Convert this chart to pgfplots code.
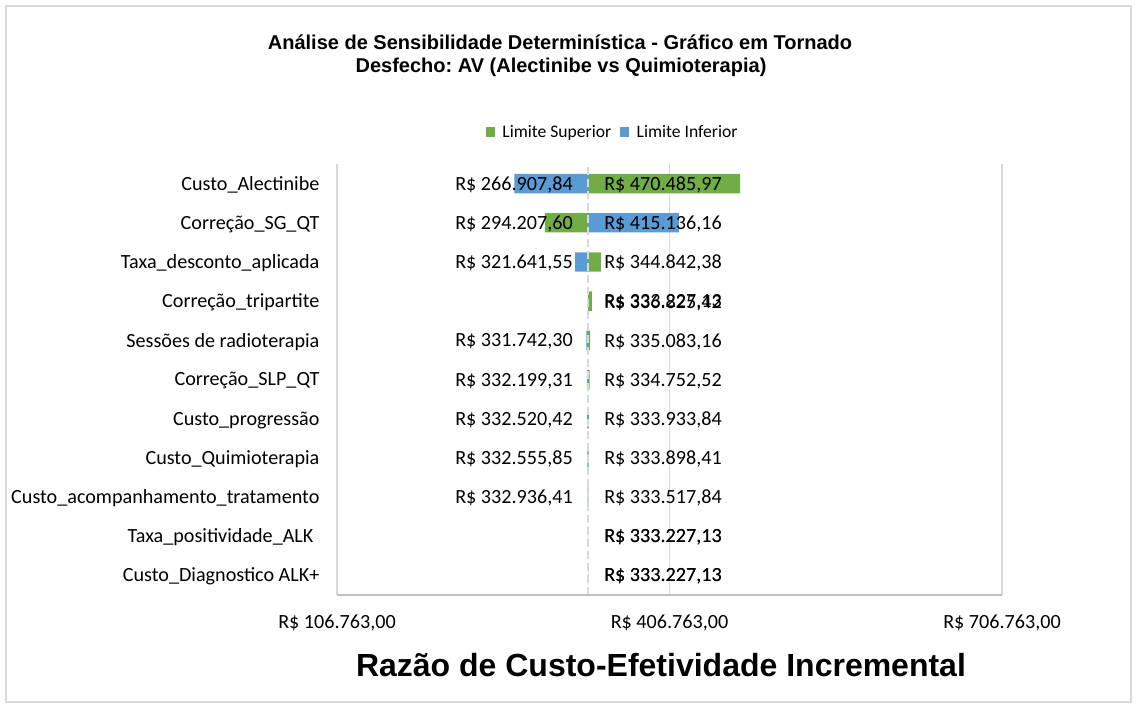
\documentclass[border=0pt]{standalone}
\usepackage{pgfplots}
\pgfplotsset{compat=1.18}
\usepackage{pgfplotstable}
\usepackage{fontspec}
\setmainfont{Carlito}
\newfontfamily\arialfont{Liberation Sans}
\definecolor{exgreen}{HTML}{70AD47}
\definecolor{exblue}{HTML}{5B9BD5}
\definecolor{gridgray}{HTML}{D9D9D9}
\definecolor{axisgray}{HTML}{BFBFBF}
\newcommand{\lblfont}{\fontsize{15.1pt}{17.5pt}\selectfont}
\newcommand{\legfont}{\fontsize{13.2pt}{16pt}\selectfont}
\frenchspacing

% y = 10 - row (Custo_Alectinibe on top); inf = Limite Inferior, sup = Limite Superior
\pgfplotstableread[col sep=comma]{
y,inf,sup
10,266907.84,470485.97
9,415136.16,294207.60
8,321641.55,344842.38
7,333227.13,336825.42
6,331742.30,335083.16
5,332199.31,334752.52
4,332520.42,333933.84
3,332555.85,333898.41
2,332936.41,333517.84
1,333227.13,333227.13
0,333227.13,333227.13
}\bars

\pgfplotstableread[col sep=semicolon]{
y;t
10;266.907,84
9;294.207,60
8;321.641,55
6;331.742,30
5;332.199,31
4;332.520,42
3;332.555,85
2;332.936,41
}\leftlabels

\pgfplotstableread[col sep=semicolon]{
y;t
10;470.485,97
9;415.136,16
8;344.842,38
7;336.825,42
7;333.227,13
6;335.083,16
5;334.752,52
4;333.933,84
3;333.898,41
2;333.517,84
1;333.227,13
1;333.227,13
0;333.227,13
0;333.227,13
}\rightlabels

\begin{document}
\begin{tikzpicture}
\path[use as bounding box] (0pt,0pt) rectangle (852.75pt,531pt);
\fill[white] (0pt,0pt) rectangle (852.75pt,531pt);
\draw[gridgray, line width=1pt] (4.5pt,4.5pt) rectangle (848.25pt,526.5pt);

\node[anchor=base, font=\arialfont\bfseries\fontsize{15pt}{18pt}\selectfont] at (420pt,494pt)
  {Análise de Sensibilidade Determinística - Gráfico em Tornado};
\node[anchor=base, font=\arialfont\bfseries\fontsize{15pt}{18pt}\selectfont] at (420.75pt,476.5pt)
  {Desfecho: AV (Alectinibe vs Quimioterapia)};

\begin{axis}[
  at={(252.75pt,84.75pt)}, anchor=south west,
  scale only axis, width=498.75pt, height=323.25pt,
  clip=false,
  xmin=-226464.13, xmax=373535.87,
  ymin=-0.5, ymax=10.5,
  scaled x ticks=false,
  xtick={-226464.13,73535.87,373535.87},
  xticklabels={{R\$ 106.763,00},{R\$ 406.763,00},{R\$ 706.763,00}},
  ytick={0,1,2,3,4,5,6,7,8,9,10},
  yticklabels={{Custo\_Diagnostico ALK+},{Taxa\_positividade\_ALK\kern4.5pt},{Custo\_acompanhamento\_tratamento},{Custo\_Quimioterapia},{Custo\_progressão},{Correção\_SLP\_QT},{Sessões de radioterapia},{Correção\_tripartite},{Taxa\_desconto\_aplicada},{Correção\_SG\_QT},{Custo\_Alectinibe}},
  major tick length=0pt,
  xmajorgrids, grid style={gridgray, line width=1pt},
  axis line style={draw=none},
  xticklabel style={font=\lblfont, anchor=north, inner sep=0pt, yshift=-15pt},
  yticklabel style={font=\lblfont, anchor=east, inner sep=0pt, xshift=-13pt, yshift=-1pt},
  legend style={at={(axis description cs:0.415,1.074)}, anchor=center, draw=none, fill=none,
    legend columns=2, font=\legfont,
    /tikz/every odd column/.append style={column sep=3.5pt},
    /tikz/every even column/.append style={column sep=4.5pt}},
  legend image code/.code={\fill[#1] (0pt,-3.5pt) rectangle (7pt,3.5pt);},
]
\addplot[xbar, bar width=14.5pt, bar shift=0pt, fill=exgreen, draw=none]
  table[x expr=\thisrow{sup}-333227.13, y=y] {\bars};
\addlegendentry{Limite Superior}
\addplot[xbar, bar width=14.5pt, bar shift=0pt, fill=exblue, draw=none]
  table[x expr=\thisrow{inf}-333227.13, y=y] {\bars};
\addlegendentry{Limite Inferior}

\addplot[forget plot, gridgray, line width=1.1pt, dash pattern=on 6pt off 3pt]
  coordinates {(0,-0.5) (0,10.5)};

\addplot[forget plot, draw=none, mark=none, nodes near coords={R\$ \pgfplotspointmeta}, point meta=explicit symbolic,
  every node near coord/.append style={anchor=east, inner sep=0pt, xshift=-11.25pt, yshift=-1pt, font=\lblfont, text=black}]
  table[x expr=0, y=y, meta=t] {\leftlabels};
\addplot[forget plot, draw=none, mark=none, nodes near coords={R\$ \pgfplotspointmeta}, point meta=explicit symbolic,
  every node near coord/.append style={anchor=west, inner sep=0pt, xshift=12pt, yshift=-1pt, font=\lblfont, text=black}]
  table[x expr=0, y=y, meta=t] {\rightlabels};

\draw[axisgray, line width=1pt] (rel axis cs:0,0) -- (rel axis cs:1,0);
\end{axis}

\node[anchor=center, font=\arialfont\bfseries\fontsize{24pt}{28pt}\selectfont] at (495.75pt,32.25pt)
  {Razão de Custo-Efetividade Incremental};
\end{tikzpicture}
\end{document}
